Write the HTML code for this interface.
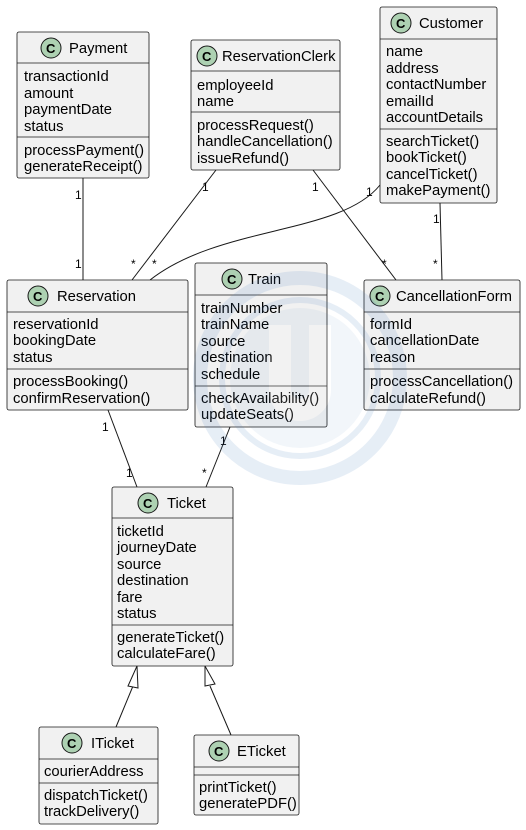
<!DOCTYPE html>
<html><head><meta charset="utf-8"><style>
html,body{margin:0;padding:0;background:#fff;}
svg{display:block;}
text{font-family:"Liberation Sans","DejaVu Sans",sans-serif;font-size:14.8px;fill:#000;}
.b{fill:#F1F1F1;stroke:#181818;stroke-width:0.8;}
.s{stroke:#181818;stroke-width:0.8;}
.l{stroke:#181818;stroke-width:1;fill:none;}
.c{fill:#ADD1B2;stroke:#181818;stroke-width:1;}
.ct{font-weight:bold;font-size:13px;}
.m{font-size:12px;}
</style></head><body>
<svg width="526" height="830" viewBox="0 0 526 830">
<!-- connectors -->
<line class="l" x1="83" y1="178" x2="83" y2="280"/>
<text class="m" x="75" y="199">1</text><text class="m" x="75" y="268">1</text>
<line class="l" x1="216" y1="170" x2="132" y2="280"/>
<text class="m" x="202" y="191">1</text><text class="m" x="131" y="268">*</text>
<path class="l" d="M380 185 C340 235 220 225 150 280"/>
<text class="m" x="366" y="196">1</text><text class="m" x="152" y="268">*</text>
<line class="l" x1="313" y1="170" x2="396" y2="280"/>
<text class="m" x="312" y="191">1</text><text class="m" x="382" y="268">*</text>
<line class="l" x1="440" y1="203" x2="442" y2="280"/>
<text class="m" x="433" y="223">1</text><text class="m" x="433" y="268">*</text>
<line class="l" x1="108" y1="410" x2="137" y2="487"/>
<text class="m" x="102" y="431">1</text><text class="m" x="126" y="477">1</text>
<line class="l" x1="230" y1="427" x2="206" y2="487"/>
<text class="m" x="220" y="445">1</text><text class="m" x="202" y="477">*</text>
<line class="l" x1="133" y1="686" x2="116" y2="727"/>
<polygon points="137,666 128,686 138,688" fill="#fff" stroke="#181818" stroke-width="1"/>
<line class="l" x1="210" y1="686" x2="231" y2="735"/>
<polygon points="205,666 205,686 215,684" fill="#fff" stroke="#181818" stroke-width="1"/>

<!-- Payment -->
<rect class="b" x="17" y="32" width="132" height="146" rx="2"/>
<line class="s" x1="17" y1="63" x2="149" y2="63"/><line class="s" x1="17" y1="137" x2="149" y2="137"/>
<circle class="c" cx="51" cy="48" r="10"/><text class="ct" x="46" y="53">C</text>
<text x="69" y="53">Payment</text>
<text x="24" y="81">transactionId</text><text x="24" y="98">amount</text><text x="24" y="114">paymentDate</text><text x="24" y="131">status</text>
<text x="24" y="155">processPayment()</text><text x="24" y="171">generateReceipt()</text>

<!-- ReservationClerk -->
<rect class="b" x="191" y="40" width="149" height="130" rx="2"/>
<line class="s" x1="191" y1="71" x2="340" y2="71"/><line class="s" x1="191" y1="112" x2="340" y2="112"/>
<circle class="c" cx="207" cy="56" r="10"/><text class="ct" x="202" y="61">C</text>
<text x="222" y="61">ReservationClerk</text>
<text x="197" y="90">employeeId</text><text x="197" y="106">name</text>
<text x="197" y="130">processRequest()</text><text x="197" y="146">handleCancellation()</text><text x="197" y="163">issueRefund()</text>

<!-- Customer -->
<rect class="b" x="380" y="7" width="117" height="196" rx="2"/>
<line class="s" x1="380" y1="39" x2="497" y2="39"/><line class="s" x1="380" y1="129" x2="497" y2="129"/>
<circle class="c" cx="401" cy="23" r="10"/><text class="ct" x="396" y="28">C</text>
<text x="419" y="28">Customer</text>
<text x="386" y="56">name</text><text x="386" y="73">address</text><text x="386" y="89">contactNumber</text><text x="386" y="106">emailId</text><text x="386" y="122">accountDetails</text>
<text x="386" y="146">searchTicket()</text><text x="386" y="162">bookTicket()</text><text x="386" y="179">cancelTicket()</text><text x="386" y="195">makePayment()</text>

<!-- Reservation -->
<rect class="b" x="7" y="280" width="181" height="130" rx="2"/>
<line class="s" x1="7" y1="312" x2="188" y2="312"/><line class="s" x1="7" y1="369" x2="188" y2="369"/>
<circle class="c" cx="38" cy="296" r="10"/><text class="ct" x="33" y="301">C</text>
<text x="57" y="301">Reservation</text>
<text x="13" y="329">reservationId</text><text x="13" y="345">bookingDate</text><text x="13" y="362">status</text>
<text x="13" y="386">processBooking()</text><text x="13" y="403">confirmReservation()</text>

<!-- Train -->
<rect class="b" x="195" y="263" width="132" height="164" rx="2"/>
<line class="s" x1="195" y1="295" x2="327" y2="295"/><line class="s" x1="195" y1="386" x2="327" y2="386"/>
<circle class="c" cx="232" cy="279" r="10"/><text class="ct" x="227" y="284">C</text>
<text x="248" y="284">Train</text>
<text x="201" y="313">trainNumber</text><text x="201" y="329">trainName</text><text x="201" y="346">source</text><text x="201" y="362">destination</text><text x="201" y="379">schedule</text>
<text x="201" y="403">checkAvailability()</text><text x="201" y="419">updateSeats()</text>

<!-- CancellationForm -->
<rect class="b" x="364" y="280" width="156" height="130" rx="2"/>
<line class="s" x1="364" y1="312" x2="520" y2="312"/><line class="s" x1="364" y1="369" x2="520" y2="369"/>
<circle class="c" cx="380" cy="296" r="10"/><text class="ct" x="375" y="301">C</text>
<text x="396" y="301">CancellationForm</text>
<text x="370" y="329">formId</text><text x="370" y="345">cancellationDate</text><text x="370" y="362">reason</text>
<text x="370" y="386">processCancellation()</text><text x="370" y="403">calculateRefund()</text>

<!-- Ticket -->
<rect class="b" x="112" y="487" width="121" height="179" rx="2"/>
<line class="s" x1="112" y1="518" x2="233" y2="518"/><line class="s" x1="112" y1="625" x2="233" y2="625"/>
<circle class="c" cx="148" cy="503" r="10"/><text class="ct" x="143" y="508">C</text>
<text x="167" y="508">Ticket</text>
<text x="117" y="536">ticketId</text><text x="117" y="552">journeyDate</text><text x="117" y="569">source</text><text x="117" y="585">destination</text><text x="117" y="602">fare</text><text x="117" y="618">status</text>
<text x="117" y="642">generateTicket()</text><text x="117" y="658">calculateFare()</text>

<!-- ITicket -->
<rect class="b" x="39" y="727" width="119" height="97" rx="2"/>
<line class="s" x1="39" y1="759" x2="158" y2="759"/><line class="s" x1="39" y1="783" x2="158" y2="783"/>
<circle class="c" cx="72" cy="743" r="10"/><text class="ct" x="67" y="748">C</text>
<text x="91" y="748">ITicket</text>
<text x="44" y="776">courierAddress</text>
<text x="44" y="800">dispatchTicket()</text><text x="44" y="816">trackDelivery()</text>

<!-- ETicket -->
<rect class="b" x="194" y="735" width="105" height="80" rx="2"/>
<line class="s" x1="194" y1="767" x2="299" y2="767"/><line class="s" x1="194" y1="775" x2="299" y2="775"/>
<circle class="c" cx="219" cy="751" r="10"/><text class="ct" x="214" y="756">C</text>
<text x="237" y="756">ETicket</text>
<text x="199" y="792">printTicket()</text><text x="199" y="808">generatePDF()</text>

<!-- watermark overlay -->
<g opacity="0.13" fill="none" stroke="#4a7fc0">
<circle cx="300" cy="378" r="100" stroke-width="14"/>
<circle cx="300" cy="378" r="78" stroke-width="6"/>
<circle cx="300" cy="378" r="70" fill="#4a7fc0" stroke="none" opacity="0.5"/>
<path d="M280 325 v65 a20 20 0 0 0 40 0 v-65" stroke="#ffffff" stroke-width="22"/>
</g>
</svg>
</body></html>
